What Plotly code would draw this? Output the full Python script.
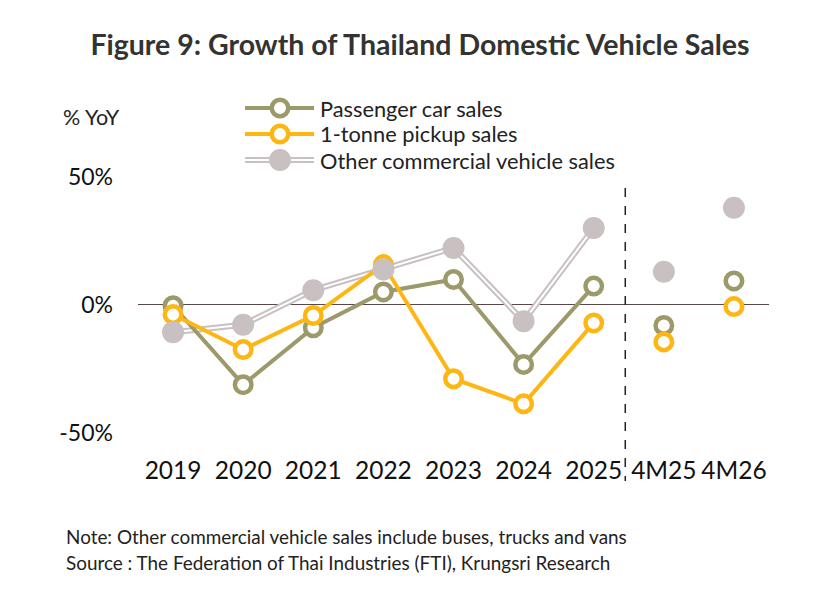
import plotly.graph_objects as go

years = ["2019", "2020", "2021", "2022", "2023", "2024", "2025"]
ytd = ["4M25", "4M26"]
categories = years + ytd

passenger = [-0.5, -31.3, -9.1, 4.9, 9.8, -23.4, 7.2]
pickup = [-3.9, -17.6, -4.3, 15.6, -29.0, -38.8, -7.2]
other = [-10.8, -7.9, 5.6, 13.7, 22.1, -6.5, 29.9]

passenger_ytd = [-8.2, 9.2]
pickup_ytd = [-14.6, -0.8]
other_ytd = [12.8, 37.8]

names = ["Passenger car sales", "1-tonne pickup sales", "Other commercial vehicle sales"]
y_ticks = [-50, 0, 50]
y_tick_labels = ["-50%", "0%", "50%"]

OLIVE = "#9c996a"
YELLOW = "#fdb614"
GREY = "#c9c0c1"
FONT = "Lato"
OPEN_SIZE = 16.5
OPEN_LW = 4.5
FILL_SIZE = 22

fig = go.Figure()

# Other commercial: double line (grey outline with white core)
fig.add_trace(go.Scatter(x=years, y=other, mode="lines",
                         line=dict(color=GREY, width=6), hoverinfo="skip", showlegend=False))
fig.add_trace(go.Scatter(x=years, y=other, mode="lines",
                         line=dict(color="white", width=2), hoverinfo="skip", showlegend=False))
# Passenger
fig.add_trace(go.Scatter(x=years, y=passenger, mode="lines+markers", name=names[0],
                         line=dict(color=OLIVE, width=4),
                         marker=dict(size=OPEN_SIZE, color="white", line=dict(color=OLIVE, width=OPEN_LW)),
                         showlegend=False))
# Pickup
fig.add_trace(go.Scatter(x=years, y=pickup, mode="lines+markers", name=names[1],
                         line=dict(color=YELLOW, width=4),
                         marker=dict(size=OPEN_SIZE, color="white", line=dict(color=YELLOW, width=OPEN_LW)),
                         showlegend=False))
# Other markers
fig.add_trace(go.Scatter(x=years, y=other, mode="markers", name=names[2],
                         marker=dict(size=FILL_SIZE, color=GREY, line=dict(width=0)),
                         showlegend=False))

# YTD markers (no connecting lines)
fig.add_trace(go.Scatter(x=ytd, y=other_ytd, mode="markers",
                         marker=dict(size=FILL_SIZE, color=GREY, line=dict(width=0)), showlegend=False))
fig.add_trace(go.Scatter(x=ytd, y=passenger_ytd, mode="markers",
                         marker=dict(size=OPEN_SIZE, color="white", line=dict(color=OLIVE, width=OPEN_LW)),
                         showlegend=False))
fig.add_trace(go.Scatter(x=ytd, y=pickup_ytd, mode="markers",
                         marker=dict(size=OPEN_SIZE, color="white", line=dict(color=YELLOW, width=OPEN_LW)),
                         showlegend=False))

# plot-area geometry (pixels)
L, R, T, B = 138, 71, 156, 150
W, H = 840, 603
ph = H - T - B
pw = W - L - R

def px_to_paper_y(py):
    return (H - B - py) / ph

def px_to_paper_x(px):
    return (px - L) / pw

shapes = []
# dashed divider
shapes.append(dict(type="line", xref="x", yref="paper", x0=6.45, x1=6.45,
                   y0=px_to_paper_y(188), y1=px_to_paper_y(481),
                   line=dict(color="#222222", width=1.5, dash="dash")))

# custom legend
annotations = []
leg_rows = [108, 134, 160]
lx0, lx1, lxm = 245, 314, 280
for i, (nm, py) in enumerate(zip(names, leg_rows)):
    yy = px_to_paper_y(py)
    x0p, x1p = px_to_paper_x(lx0), px_to_paper_x(lx1)
    if i == 2:
        shapes.append(dict(type="line", xref="paper", yref="paper", x0=x0p, x1=x1p, y0=yy, y1=yy,
                           line=dict(color=GREY, width=6)))
        shapes.append(dict(type="line", xref="paper", yref="paper", x0=x0p, x1=x1p, y0=yy, y1=yy,
                           line=dict(color="white", width=2)))
        r = 11
        shapes.append(dict(type="circle", xref="paper", yref="paper",
                           x0=px_to_paper_x(lxm - r), x1=px_to_paper_x(lxm + r),
                           y0=px_to_paper_y(py + r), y1=px_to_paper_y(py - r),
                           fillcolor=GREY, line=dict(width=0)))
    else:
        c = OLIVE if i == 0 else YELLOW
        shapes.append(dict(type="line", xref="paper", yref="paper", x0=x0p, x1=x1p, y0=yy, y1=yy,
                           line=dict(color=c, width=4)))
        r = 8.25
        shapes.append(dict(type="circle", xref="paper", yref="paper",
                           x0=px_to_paper_x(lxm - r), x1=px_to_paper_x(lxm + r),
                           y0=px_to_paper_y(py + r), y1=px_to_paper_y(py - r),
                           fillcolor="white", line=dict(color=c, width=4.5)))
    annotations.append(dict(text=nm, xref="paper", yref="paper", x=px_to_paper_x(318), y=yy,
                            xanchor="left", yanchor="middle", showarrow=False,
                            font=dict(family=FONT, size=21.8, color="#222222")))

annotations.append(dict(text="% YoY", xref="paper", yref="paper", x=px_to_paper_x(61),
                        y=px_to_paper_y(117), xanchor="left", yanchor="middle", showarrow=False,
                        font=dict(family=FONT, size=21.5, color="#222222")))
annotations.append(dict(text="Note: Other commercial vehicle sales include buses, trucks and vans",
                        xref="paper", yref="paper", x=px_to_paper_x(64), y=px_to_paper_y(536),
                        xanchor="left", yanchor="middle", showarrow=False,
                        font=dict(family=FONT, size=18.9, color="#222222")))
annotations.append(dict(text="Source : The Federation of Thai Industries (FTI), Krungsri Research",
                        xref="paper", yref="paper", x=px_to_paper_x(64), y=px_to_paper_y(562),
                        xanchor="left", yanchor="middle", showarrow=False,
                        font=dict(family=FONT, size=18.9, color="#222222")))

fig.update_layout(
    width=W, height=H,
    margin=dict(l=L, r=R, t=T, b=B),
    paper_bgcolor="white", plot_bgcolor="white",
    title=dict(text="<b>Figure 9: Growth of Thailand Domestic Vehicle Sales</b>",
               x=0.5, xanchor="center", y=1 - 45 / H, yanchor="middle",
               font=dict(family=FONT, size=28.5, color="#333333")),
    shapes=shapes, annotations=annotations,
    showlegend=False,
)
fig.update_xaxes(type="category", categoryorder="array", categoryarray=categories,
                 range=[-0.5, 8.5], showgrid=False, showline=False, zeroline=False,
                 ticks="", tickfont=dict(family=FONT, size=24.5, color="#111111"))
fig.update_yaxes(range=[-58, 58], tickvals=y_ticks, ticktext=y_tick_labels,
                 showgrid=False, showline=False, zeroline=True, zerolinecolor="#5a4848",
                 zerolinewidth=1.3, ticks="", ticklabelstandoff=24,
                 tickfont=dict(family=FONT, size=23, color="#111111"))

fig.write_html("out.html")
